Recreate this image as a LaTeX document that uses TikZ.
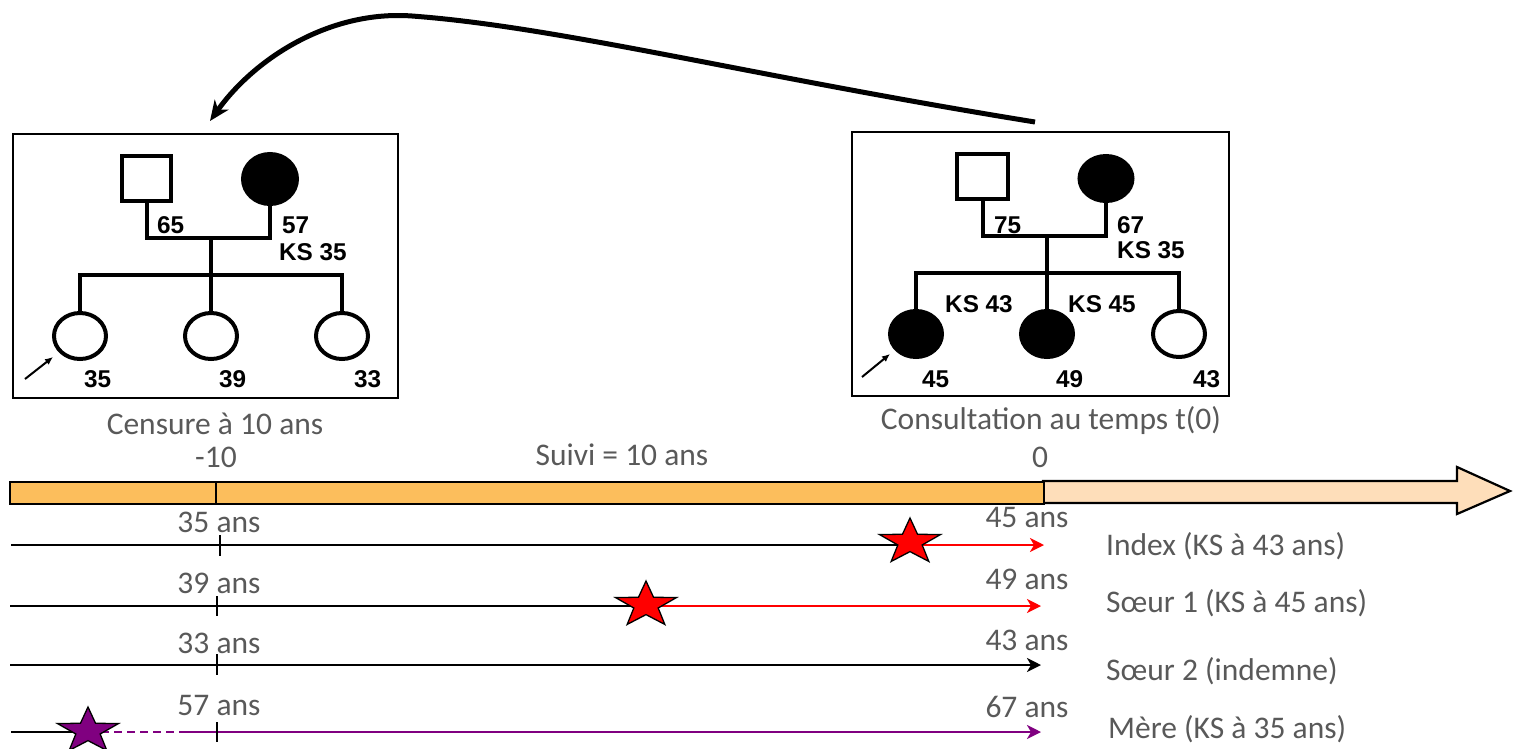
\documentclass[tikz,border=0pt]{standalone}
\usepackage{fontspec}
\setmainfont{Carlito}
\newfontfamily\pedfont{Liberation Sans}
\usetikzlibrary{shapes.geometric,arrows.meta,calc}
\definecolor{txtgrey}{RGB}{89,89,89}
\definecolor{barorange}{RGB}{252,190,92}
\definecolor{barpeach}{RGB}{254,222,186}
\definecolor{kspurple}{RGB}{128,0,128}
\begin{document}
\begin{tikzpicture}[x=1pt,y=-1pt,
  lbl/.style={font=\fontsize{31.5}{36}\selectfont, text=txtgrey, inner sep=0pt, anchor=base},
  lblw/.style={lbl, anchor=base west},
  ped/.style={font=\pedfont\bfseries\fontsize{24.3}{28}\selectfont, inner sep=0pt, anchor=west},
  pline/.style={line width=4pt},
  pbox/.style={draw, line width=2pt},
  sqr/.style={draw, line width=4pt, rectangle, minimum width=49pt, minimum height=45pt, inner sep=0pt},
  fem/.style={draw, line width=4pt, ellipse, minimum width=52pt, minimum height=46pt, inner sep=0pt},
  affected/.style={fill=black},
  proband/.style={line width=2pt, -{Latex[length=8pt,width=7pt]}},
  tline/.style={line width=2.5pt},
  tick/.style={line width=2pt},
  tarrow/.style={line width=2.5pt, -{Stealth[length=14pt,width=14pt,inset=4pt]}},
  starstyle/.style={draw=black, line width=1.3pt},
  pics/ksstar/.style={code={
    \path[pic actions] (90:32pt and 24pt) -- (126:12.8pt and 9.6pt) -- (162:32pt and 24pt) -- (198:12.8pt and 9.6pt)
      -- (234:32pt and 24pt) -- (270:12.8pt and 9.6pt) -- (306:32pt and 24pt) -- (342:12.8pt and 9.6pt)
      -- (18:32pt and 24pt) -- (54:12.8pt and 9.6pt) -- cycle;
  }}
]
\useasboundingbox (0,0) rectangle (1513,748);

% ---------- left pedigree ----------
\node[pbox, minimum width=385pt, minimum height=264pt, inner sep=0pt] (lbox) at (205.5,266) {};
\node[sqr] (lf) at (146.5,178.5) {};
\node[fem, affected, minimum width=54pt, minimum height=50pt] (lm) at (270,179) {};
\node[fem] (lk1) at (80,336) {};
\node[fem] (lk2) at (211,336) {};
\node[fem] (lk3) at (342,336) {};
\coordinate (lc) at (211,238);
\coordinate (ls) at (211,275);
\draw[pline] (lf.south) -- (lf.south |- lc) -- (lm.south |- lc) -- (lm.south);
\draw[pline] (lc) -- (ls);
\draw[pline] (lk1.north) -- (lk1.north |- ls) -- (lk3.north |- ls) -- (lk3.north);
\draw[pline] (ls) -- (lk2.north);
\node[ped] (l65) at (157,225) {65};
\node[ped] (l57) at (282,225) {57};
\node[ped] (lks) at (279,252) {KS 35};
\node[ped] (l35) at (84,379) {35};
\node[ped] (l39) at (219,379) {39};
\node[ped] (l33) at (354,379) {33};
\coordinate (lpa) at (25,379);
\coordinate (lpb) at (53,357);
\draw[proband] (lpa) -- (lpb);

% ---------- right pedigree ----------
\node[pbox, minimum width=377pt, minimum height=264pt, inner sep=0pt] (rbox) at (1040.5,264) {};
\node[sqr, minimum width=51pt] (rf) at (982.5,176.5) {};
\node[fem, affected, minimum width=53pt, minimum height=45pt] (rm) at (1106,178.5) {};
\node[fem, affected] (rk1) at (916,334) {};
\node[fem, affected] (rk2) at (1047,334) {};
\node[fem] (rk3) at (1179,334) {};
\coordinate (rc) at (1047,236);
\coordinate (rs) at (1047,273);
\draw[pline] (rf.south) -- (rf.south |- rc) -- (rm.south |- rc) -- (rm.south);
\draw[pline] (rc) -- (rs);
\draw[pline] (rk1.north) -- (rk1.north |- rs) -- (rk3.north |- rs) -- (rk3.north);
\draw[pline] (rs) -- (rk2.north);
\node[ped] (r75) at (994,225) {75};
\node[ped] (r67) at (1117,225) {67};
\node[ped] (rks) at (1117,250) {KS 35};
\node[ped] (rks43) at (945,304) {KS 43};
\node[ped] (rks45) at (1068,304) {KS 45};
\node[ped] (r45) at (922,379) {45};
\node[ped] (r49) at (1056,379) {49};
\node[ped] (r43) at (1193,379) {43};
\coordinate (rpa) at (862,377);
\coordinate (rpb) at (890,354);
\draw[proband] (rpa) -- (rpb);

% ---------- curved arrow ----------
\coordinate (cs) at (1035,122);
\coordinate (cp) at (412,16);
\coordinate (ce) at (210,121);
\draw[line width=5pt, -{Stealth[length=20pt,width=17pt,inset=6pt]}]
  (cs) .. controls (750,76) and (560,27) .. (cp) .. controls (330,10) and (255,58) .. (ce);

% ---------- labels above bar ----------
\node[lbl] (cens) at (215,434) {Censure à 10 ans};
\node[lbl] (m10) at (216,467) {-10};
\node[lbl] (suivi) at (622,465) {Suivi = 10 ans};
\node[lbl] (consult) at (1051,429) {Consultation au temps t(0)};
\node[lbl] (zero) at (1040,467) {0};

% ---------- time bar ----------
\path[draw=black, line width=2.2pt, fill=barpeach] (1043,481) -- (1457,481) -- (1457,467) -- (1510,491) -- (1457,514) -- (1457,503) -- (1043,503) -- cycle;
\node[draw=black, line width=2.2pt, fill=barorange, minimum width=1034pt, minimum height=22pt, inner sep=0pt, anchor=north west] (bar) at (9,481) {};
\draw[line width=2pt] (216,481) -- (216,503);

% ---------- row 1 : index ----------
\coordinate (a1) at (11,545);
\coordinate (s1) at (910,545);
\coordinate (e1) at (1044,545);
\draw[tline] (a1) -- (s1);
\draw[tarrow, red] (s1) -- (e1);
\draw[tick] (220,535) -- (220,556);
\pic[starstyle, fill=red] at (910,542) {ksstar};
\node[lbl] (t35) at (219,532) {35 ans};
\node[lbl] (t45) at (1027,527) {45 ans};
\node[lblw] (n1) at (1106,555) {Index (KS à 43 ans)};

% ---------- row 2 : soeur 1 ----------
\coordinate (a2) at (10,606);
\coordinate (s2) at (646,606);
\coordinate (e2) at (1041,606);
\draw[tline] (a2) -- (s2);
\draw[tarrow, red] (s2) -- (e2);
\draw[tick] (217,596) -- (217,616);
\pic[starstyle, fill=red] at (646,605) {ksstar};
\node[lbl] (t39) at (219,593) {39 ans};
\node[lbl] (t49) at (1027,589) {49 ans};
\node[lblw] (n2) at (1106,612) {Sœur 1 (KS à 45 ans)};

% ---------- row 3 : soeur 2 ----------
\coordinate (a3) at (10,665);
\coordinate (e3) at (1041,665);
\draw[tarrow, black] (a3) -- (e3);
\draw[tick] (217,654) -- (217,675);
\node[lbl] (t33) at (219,653) {33 ans};
\node[lbl] (t43) at (1027,650) {43 ans};
\node[lblw] (n3) at (1106,680) {Sœur 2 (indemne)};

% ---------- row 4 : mere ----------
\coordinate (a4) at (11,732);
\coordinate (s4) at (88,732);
\coordinate (d4) at (186,732);
\coordinate (e4) at (1041,732);
\draw[tline] (a4) -- (s4);
\draw[tline, kspurple, dashed, dash pattern=on 8pt off 5pt] (s4) -- (d4);
\draw[tarrow, kspurple] (d4) -- (e4);
\draw[tick] (217,722) -- (217,742);
\pic[starstyle, fill=kspurple] at (88,731) {ksstar};
\node[lbl] (t57) at (219,715) {57 ans};
\node[lbl] (t67) at (1027,717) {67 ans};
\node[lblw] (n4) at (1108,738) {Mère (KS à 35 ans)};
\end{tikzpicture}
\end{document}
